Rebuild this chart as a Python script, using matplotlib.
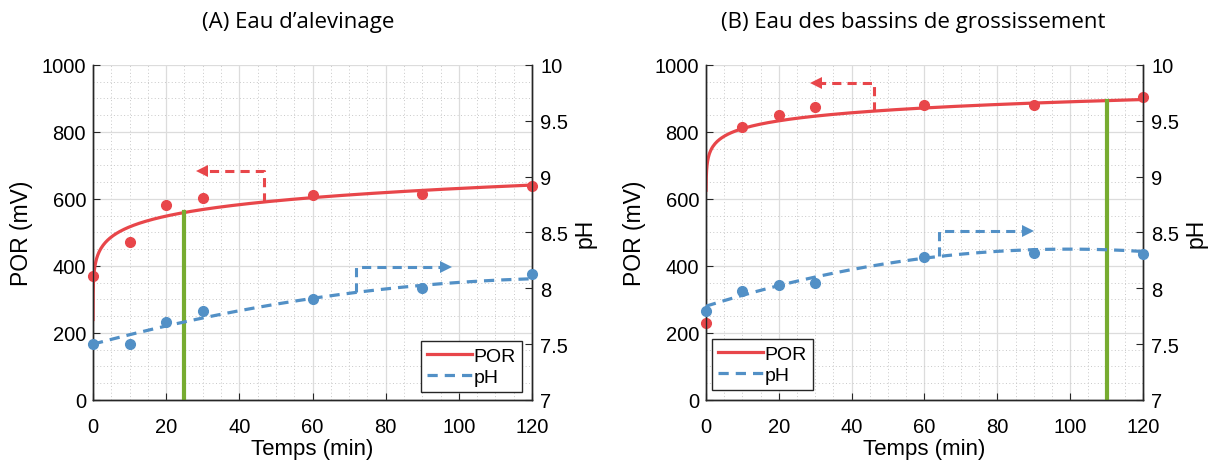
import numpy as np
import matplotlib.pyplot as plt
from matplotlib.lines import Line2D

plt.rcParams['font.family'] = ['Liberation Sans', 'DejaVu Sans']

# sampling times (min)
temps = [0, 10, 20, 30, 60, 90, 120]

# (A) hatchery water
por_a = [370, 471, 581, 603, 611, 614, 638]
ph_a = [7.50, 7.50, 7.70, 7.80, 7.90, 8.00, 8.13]
# (B) grow-out pond water
por_b = [230, 815, 852, 876, 882, 882, 903]
ph_b = [7.80, 7.98, 8.03, 8.05, 8.28, 8.32, 8.31]

# fitted models: POR = a * t^b, pH = c0 + c1*t + c2*t^2
por_fit_a = (423.0, 0.087)
por_fit_b = (737.0, 0.041)
ph_fit_a = (7.50, 0.00879, -3.26e-5)
ph_fit_b = (7.84, 0.01025, -5.14e-5)
t_start_a = 0.0015
t_start_b = 0.0186

# time of the vertical marker
t_mark_a = 25
t_mark_b = 110

# axis-pointer arrows: (x of riser, top y in mV, x of tip)
red_arrow_a = (46.8, 684, 28.6)
blue_arrow_a = (72.0, 397, 97.8)
red_arrow_b = (46.1, 945, 29.1)
blue_arrow_b = (63.9, 505, 89.7)

titles = ["(A) Eau d\u2019alevinage", "(B) Eau des bassins de grossissement"]

RED = '#E8464A'
BLUE = '#5290C6'
GREEN = '#77AC30'
SPINE = '#262626'


def por_model(t, fit):
    a, b = fit
    return a * np.power(t, b)


def ph_model(t, fit):
    c0, c1, c2 = fit
    return c0 + c1 * t + c2 * t ** 2


def ph_to_mv(p):
    return (p - 7.0) / 3.0 * 1000.0


def draw_panel(ax, por, ph, pfit, hfit, t0, tmark, red_arr, blue_arr, legend_loc, legend_anchor):
    ax2 = ax.twinx()

    t = np.concatenate([np.geomspace(t0, 1, 200), np.linspace(1, 120, 400)[1:]])
    ax.plot(t, por_model(t, pfit), color=RED, lw=2.3, zorder=3)
    ax.plot(temps, por, 'o', color=RED, ms=7, zorder=4, clip_on=False)

    th = np.linspace(0, 120, 300)
    ax2.plot(th, ph_model(th, hfit), color=BLUE, lw=2.3, ls=(0, (3.2, 2.2)), zorder=3)
    ax2.plot(temps, ph, 'o', color=BLUE, ms=7, zorder=4, clip_on=False)

    ax.plot([tmark, tmark], [0, por_model(tmark, pfit)], color=GREEN, lw=3, zorder=5)

    # arrows pointing at the axis each curve belongs to
    xr, yr, tip = red_arr
    ax.plot([xr, xr, tip + 1.5], [por_model(xr, pfit), yr, yr], color=RED, lw=2.2,
            ls=(0, (3, 2)), zorder=5)
    ax.plot([tip + 1.2], [yr], marker='<', color=RED, ms=8, mew=0, zorder=5)
    xb, yb, tipb = blue_arr
    ax.plot([xb, xb, tipb - 1.5], [ph_to_mv(ph_model(xb, hfit)), yb, yb], color=BLUE, lw=2.2,
            ls=(0, (3, 2)), zorder=5)
    ax.plot([tipb - 1.2], [yb], marker='>', color=BLUE, ms=8, mew=0, zorder=5)

    ax.set_xlim(0, 120)
    ax.set_ylim(0, 1000)
    ax2.set_ylim(7, 10)
    ax.set_xticks(np.arange(0, 121, 20))
    ax.set_xticks(np.arange(0, 121, 5), minor=True)
    ax.set_yticks(np.arange(0, 1001, 200))
    ax.set_yticks(np.arange(0, 1001, 50), minor=True)
    ax2.set_yticks([7, 7.5, 8, 8.5, 9, 9.5, 10])
    ax2.set_yticklabels(['7', '7.5', '8', '8.5', '9', '9.5', '10'])

    ax.grid(True, which='major', color='#DCDCDC', lw=0.9)
    ax.grid(True, which='minor', color='#C8C8C8', lw=0.7, ls=(0, (1, 2.5)))
    ax.set_axisbelow(True)

    for a in (ax, ax2):
        a.spines['top'].set_visible(False)
        for s in a.spines.values():
            s.set_color(SPINE)
            s.set_linewidth(1.0)
        a.tick_params(which='both', direction='in', labelsize=14.5, color=SPINE, length=5, pad=5)
        a.tick_params(which='minor', length=0)
    ax.tick_params(axis='x', pad=12)
    ax2.tick_params(axis='y', pad=6)

    ax.set_xlabel('Temps (min)', fontsize=16, labelpad=2)
    ax.set_ylabel('POR (mV)', fontsize=16.5, labelpad=6)
    ax2.set_ylabel('pH', fontsize=16.5, labelpad=4)

    handles = [Line2D([], [], color=RED, lw=2.3),
               Line2D([], [], color=BLUE, lw=2.3, ls=(0, (3.2, 2.2)))]
    leg = ax2.legend(handles, ['POR', 'pH'], loc=legend_loc, bbox_to_anchor=legend_anchor,
                     borderaxespad=0, fontsize=14, fancybox=False, framealpha=1,
                     edgecolor='#262626', handlelength=2.3, handletextpad=0.1,
                     labelspacing=0.2, borderpad=0.3)
    leg.get_frame().set_linewidth(1.0)
    return ax2


fig = plt.figure(figsize=(12.21, 4.64), dpi=100)
ax_a = fig.add_axes([0.0762, 0.1358, 0.3595, 0.722])
ax_b = fig.add_axes([0.5782, 0.1358, 0.3579, 0.722])

draw_panel(ax_a, por_a, ph_a, por_fit_a, ph_fit_a, t_start_a, t_mark_a,
           red_arrow_a, blue_arrow_a, 'lower right', (0.977, 0.024))
draw_panel(ax_b, por_b, ph_b, por_fit_b, ph_fit_b, t_start_b, t_mark_b,
           red_arrow_b, blue_arrow_b, 'lower left', (0.014, 0.03))

fig.text(0.244, 0.952, titles[0], ha='center', va='center', fontsize=16, family='Open Sans')
fig.text(0.748, 0.952, titles[1], ha='center', va='center', fontsize=16, family='Open Sans')

fig.savefig('out.png', dpi=100)
